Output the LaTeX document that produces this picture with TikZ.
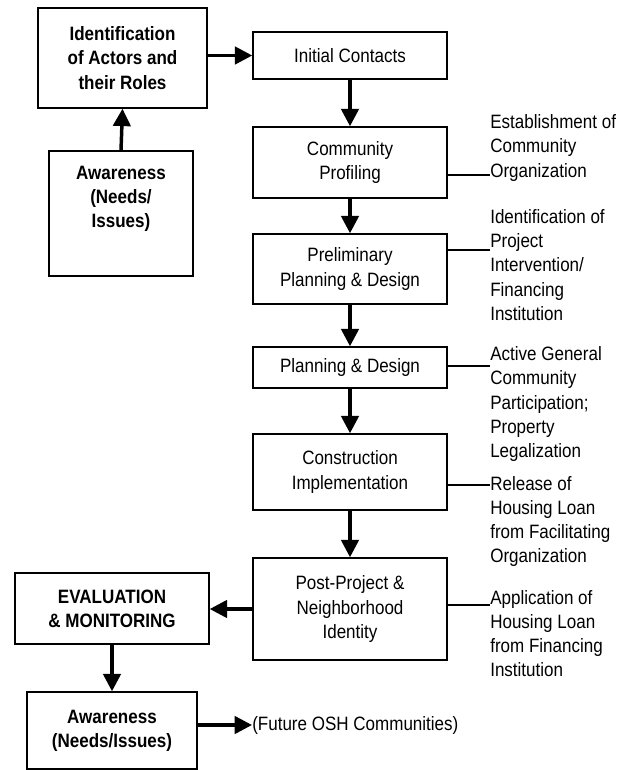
\documentclass[tikz,border=0pt]{standalone}
\usepackage{fontspec}
\setmainfont[FakeStretch=0.88]{Liberation Sans}
\usepackage{tikz}
\usetikzlibrary{arrows.meta,positioning}

\begin{document}
\begin{tikzpicture}[x=0.75pt,y=-0.75pt,
  box/.style={draw, line width=1.1pt, align=center, inner sep=0pt, font=\fontsize{14.5}{18.2}\selectfont},
  bbox/.style={box, font=\fontsize{14.5}{18.2}\selectfont\bfseries},
  side/.style={anchor=west, align=left, inner sep=0pt, font=\fontsize{14.5}{18.2}\selectfont},
  flow/.style={line width=2.6pt, -{Triangle[length=13pt,width=13pt]}},
  tie/.style={line width=0.9pt}]
\useasboundingbox (0,0) rectangle (632,770);
\node[bbox, minimum width=169*0.75pt, minimum height=100*0.75pt] (ident) at (122.5,58) {Identification\\of Actors and\\their Roles};
\node[bbox, minimum width=144*0.75pt, minimum height=125*0.75pt] (aware) at (121,213.5) {};
\node[align=center, inner sep=0pt, font=\fontsize{14.5}{18.2}\selectfont\bfseries] (awaretxt) at (121,199) {Awareness\\(Needs/\\Issues)};
\node[box, minimum width=194*0.75pt, minimum height=47*0.75pt] (init) at (350,55.5) {Initial Contacts};
\node[box, minimum width=194*0.75pt, minimum height=71*0.75pt] (prof) at (350,162.5) {Community\\Profiling};
\node[box, minimum width=194*0.75pt, minimum height=70*0.75pt] (prel) at (350,269) {Preliminary\\Planning \& Design};
\node[box, minimum width=194*0.75pt, minimum height=41*0.75pt] (plan) at (350,367.5) {Planning \& Design};
\node[box, minimum width=194*0.75pt, minimum height=76*0.75pt] (cons) at (350,472) {Construction\\Implementation};
\node[box, minimum width=194*0.75pt, minimum height=102*0.75pt] (post) at (350,609) {Post-Project \&\\Neighborhood\\Identity};
\node[bbox, minimum width=194*0.75pt, minimum height=71*0.75pt] (eval) at (112,608.5) {EVALUATION\\\& MONITORING};
\node[bbox, minimum width=170*0.75pt, minimum height=77*0.75pt] (aware2) at (112,730.5) {Awareness\\(Needs/Issues)};
\node[side] (future) at (252,725) {(Future OSH Communities)};
\node[side] (estab) at (490,148) {Establishment of\\Community\\Organization};
\node[side] (idproj) at (490,265) {Identification of\\Project\\Intervention/\\Financing\\Institution};
\node[side] (active) at (490,404) {Active General\\Community\\Participation;\\Property\\Legalization};
\node[side] (release) at (490,521.5) {Release of\\Housing Loan\\from Facilitating\\Organization};
\node[side] (applic) at (490,633.5) {Application of\\Housing Loan\\from Financing\\Institution};
\coordinate (estabc) at (490,175);
\coordinate (idprojc) at (490,250);
\coordinate (activec) at (490,366);
\coordinate (releasec) at (490,485);
\coordinate (applicc) at (490,605);
\path [draw, flow] (aware.north) -- (ident.south);
\path [draw, flow] (ident.east |- init) -- (init.west);
\path [draw, flow] (init.south) -- (prof.north);
\path [draw, flow] (prof.south) -- (prel.north);
\path [draw, flow] (prel.south) -- (plan.north);
\path [draw, flow] (plan.south) -- (cons.north);
\path [draw, flow] (cons.south) -- (post.north);
\path [draw, flow] (post.west) -- (eval.east |- post.west);
\path [draw, flow] (eval.south) -- (aware2.north);
\path [draw, flow] (aware2.east |- future) -- (future.west);
\path [draw, tie] (prof.east |- estabc) -- (estabc);
\path [draw, tie] (prel.east |- idprojc) -- (idprojc);
\path [draw, tie] (plan.east |- activec) -- (activec);
\path [draw, tie] (cons.east |- releasec) -- (releasec);
\path [draw, tie] (post.east |- applicc) -- (applicc);
\end{tikzpicture}
\end{document}
